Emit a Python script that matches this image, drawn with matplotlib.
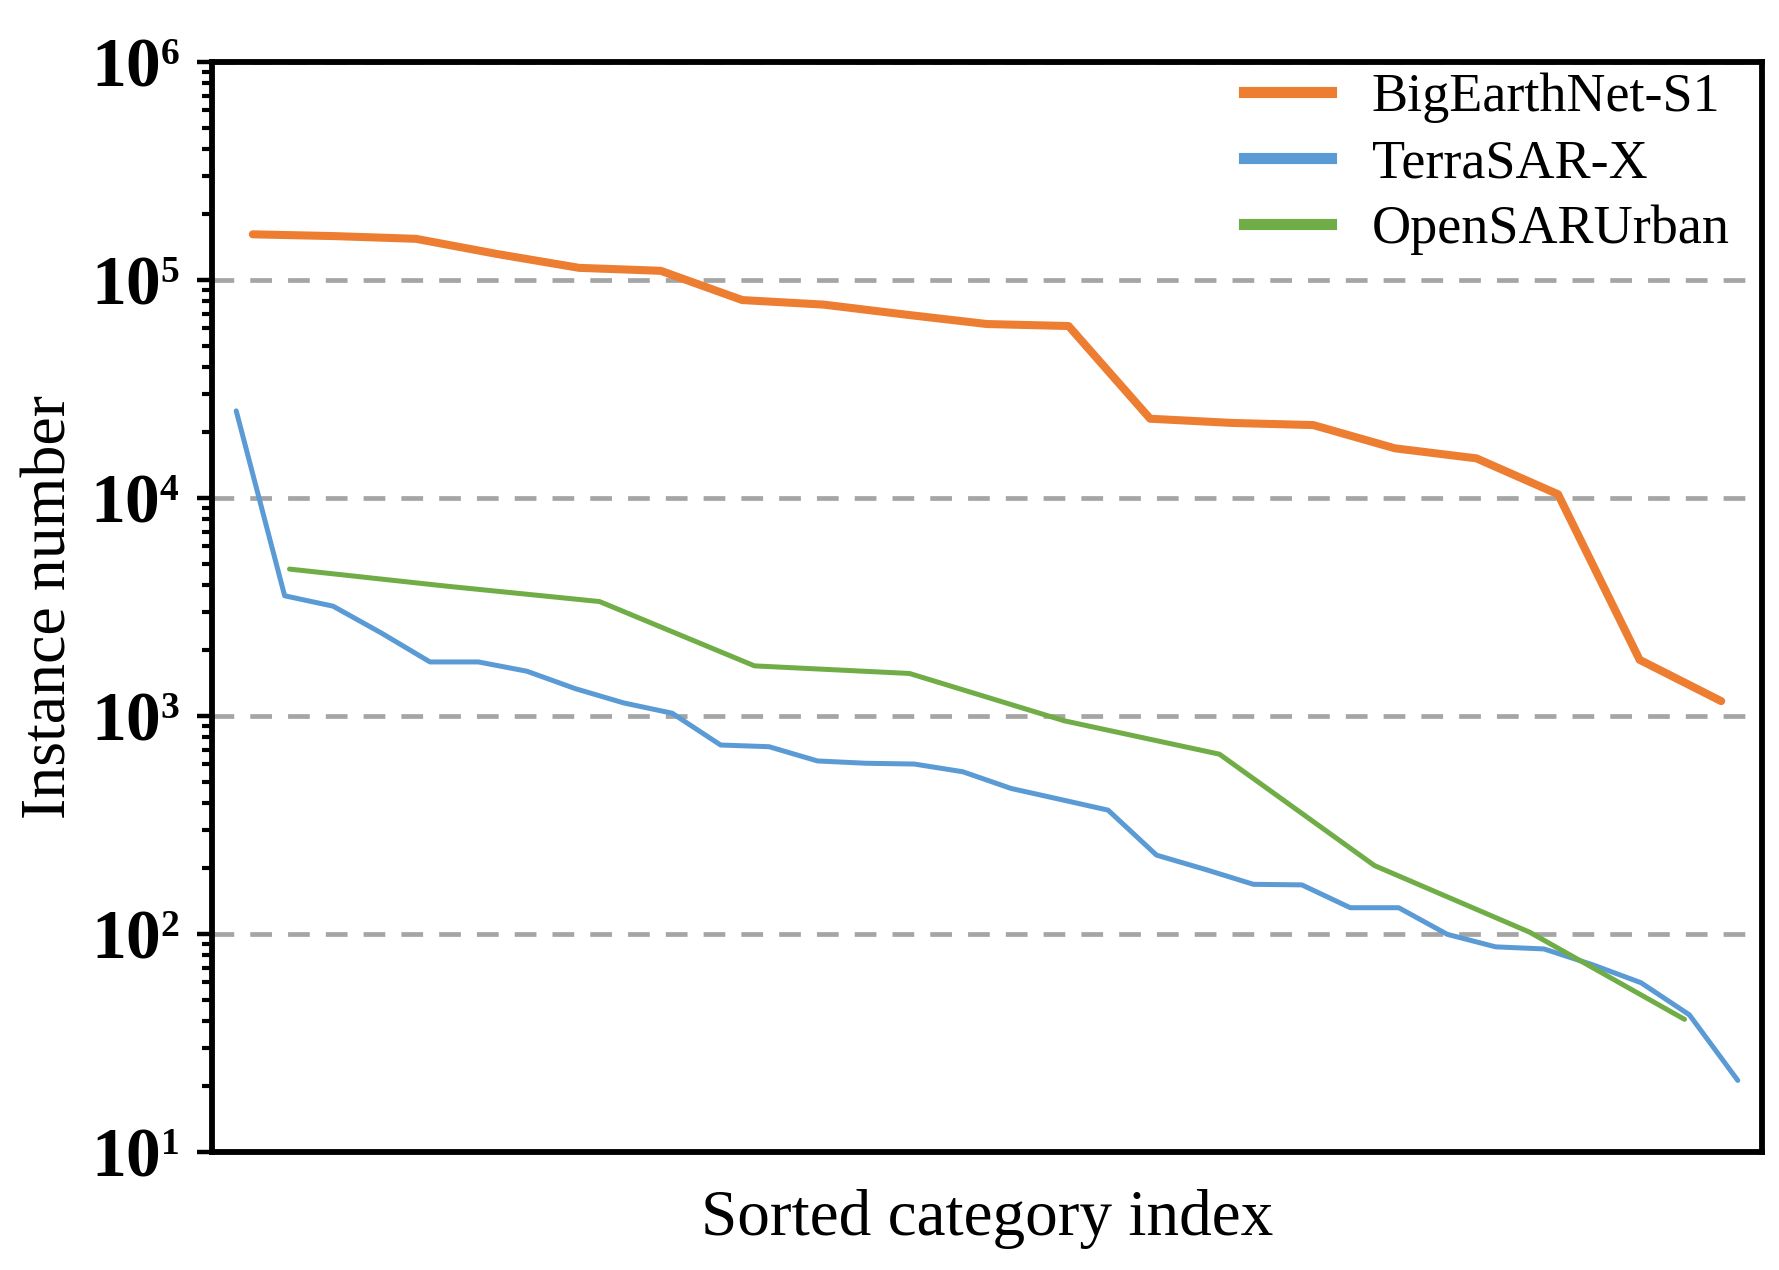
import numpy as np
import matplotlib
matplotlib.use("Agg")
import matplotlib.pyplot as plt
from matplotlib.lines import Line2D
from matplotlib.ticker import FixedLocator, FuncFormatter, NullFormatter, LogLocator

try:
    import matplotlib._mathtext as _mt
    _mt.SHRINK_FACTOR = 0.54
except Exception:
    pass

# ---------------- data ----------------
series_names = ["BigEarthNet-S1", "TerraSAR-X", "OpenSARUrban"]

bigearthnet_s1 = [162000, 159000, 154500, 131500, 113700, 110200, 80900, 77100,
                  69400, 62800, 61500, 23100, 22100, 21600, 16900, 15200, 10400,
                  1810, 1170]

terrasar_x = [25100, 3560, 3190, 2400, 1770, 1770, 1605, 1335, 1148, 1030,
              736, 723, 622, 607, 602, 555, 465, 415, 370, 230, 198, 169, 168,
              132, 132, 99.7, 87.3, 85.4, 72.3, 59.8, 42.6, 21.3]

opensarurban = [4720, 3950, 3350, 1698, 1567, 950, 668, 206, 102, 40.6]

y_major_exponents = [1, 2, 3, 4, 5, 6]

colors = ["#ED7D31", "#5B9BD5", "#70AD47"]

# ---------------- style ----------------
plt.rcParams["font.family"] = ["Liberation Serif", "DejaVu Serif"]
plt.rcParams["mathtext.fontset"] = "custom"
plt.rcParams["mathtext.rm"] = "Liberation Serif:bold"
plt.rcParams["mathtext.bf"] = "Liberation Serif:bold"
plt.rcParams["mathtext.it"] = "Liberation Serif:bold"

fig = plt.figure(figsize=(17.79, 12.70), dpi=100)
ax = fig.add_axes([212 / 1779, 1 - 1152 / 1270, 1550 / 1779, 1090 / 1270])

all_series = [bigearthnet_s1, terrasar_x, opensarurban]
widths = [5.8, 3.6, 3.6]
for vals, name, c, lw in zip(all_series, series_names, colors, widths):
    n = len(vals)
    x = (np.arange(n) + 0.5) / n
    ax.plot(x, vals, color=c, lw=lw, label=name,
            solid_capstyle="round", solid_joinstyle="round", zorder=3)

ax.set_yscale("log")
ax.set_ylim(10 ** y_major_exponents[0], 10 ** y_major_exponents[-1])
ax.set_xlim(0, 1)

ax.yaxis.set_major_locator(FixedLocator([10.0 ** e for e in y_major_exponents]))
ax.yaxis.set_major_formatter(FuncFormatter(
    lambda v, p: r"$\mathbf{10^{%d}}$" % int(round(np.log10(v)))))
ax.yaxis.set_minor_locator(LogLocator(base=10, subs=np.arange(2, 10)))
ax.yaxis.set_minor_formatter(NullFormatter())

ax.tick_params(axis="y", which="major", direction="out", length=11, width=3.2,
               labelsize=50, pad=12, right=False)
ax.tick_params(axis="y", which="minor", direction="out", length=7, width=3.0,
               right=False)
ax.set_xticks([])

ax.yaxis.grid(True, which="major", color="#A5A5A5", lw=3.4,
              linestyle=(0, (4.6, 3.4)), zorder=1)
ax.set_axisbelow(True)

for s in ax.spines.values():
    s.set_linewidth(4.2)
    s.set_color("black")
    s.set_zorder(5)

ax.set_ylabel("Instance number", fontsize=46, va="center")
ax.yaxis.set_label_coords(-0.1039, 0.5)
ax.set_xlabel("Sorted category index", fontsize=47, va="top")
ax.xaxis.set_label_coords(0.5, -0.0338)

handles = [Line2D([0], [0], color=c, lw=8) for c in colors]
leg = ax.legend(handles, series_names, loc="upper left",
                bbox_to_anchor=(0.666, 0.990), frameon=False,
                fontsize=39, handlelength=1.6, handletextpad=0.75,
                labelspacing=0.28, borderpad=0, borderaxespad=0)

fig.savefig("out.png", dpi=100)
